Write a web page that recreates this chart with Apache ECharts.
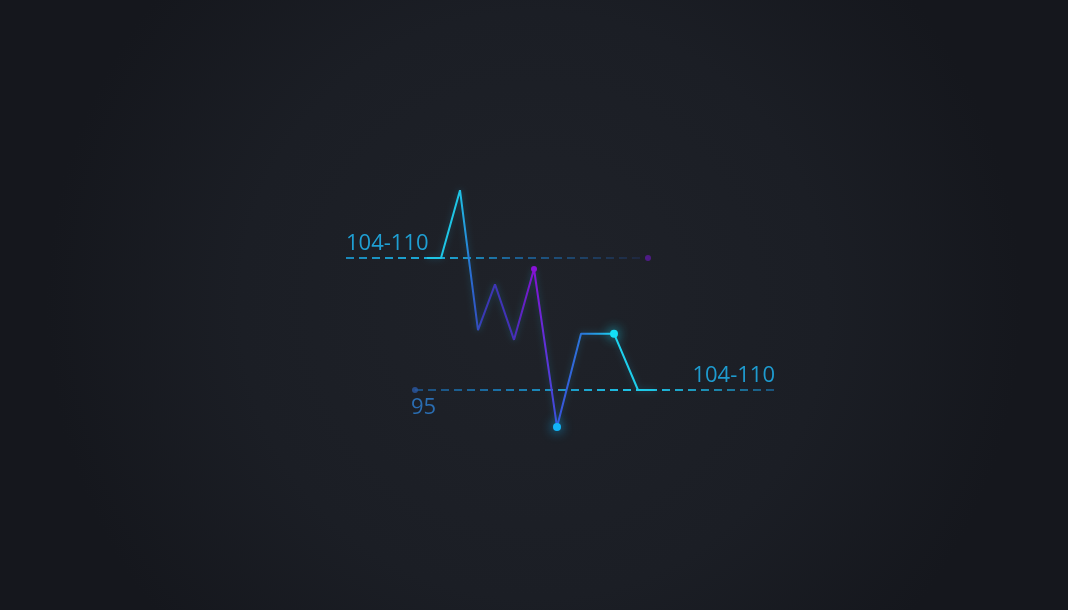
<!DOCTYPE html>
<html>
<head>
<meta charset="utf-8">
<script src="https://cdn.jsdelivr.net/npm/echarts@6/dist/echarts.min.js"></script>
<style>html,body{margin:0;padding:0;background:#1a1d24;}#c{width:1068px;height:610px;}</style>
</head>
<body>
<div id="c"></div>
<script>
// data (x position units along the trace, y values)
var xVals = [87, 101, 120, 138, 155, 174, 194, 217, 241, 274, 298, 315];
var yVals = [110, 110, 117.7, 101.8, 107.0, 100.7, 108.75, 90.8, 101.4, 101.4, 95, 95];
var upperLine = { from: 6, to: 308, value: 110, label: '104-110' };
var lowerLine = { from: 75, to: 435, value: 95, startLabel: '95', endLabel: '104-110' };

var markerStyle = {
  2: { size: 0, color: '#1ec6e6', glow: true },
  6: { size: 6, color: '#8a12d8' },
  7: { size: 8, color: '#12b4f8', glow: true },
  9: { size: 8, color: '#14e0f8', glow: true }
};

var seriesData = xVals.map(function (x, i) {
  var m = markerStyle[i];
  var item = { value: [x, yVals[i]] };
  if (m) {
    item.symbolSize = m.size;
    item.itemStyle = { color: m.color, shadowBlur: m.glow ? 12 : 0, shadowColor: m.color };
  } else {
    item.symbolSize = 0;
  }
  return item;
});

var G = echarts.graphic.LinearGradient;
var font = '"Open Sans", "Noto Sans", sans-serif';

var chart = echarts.init(document.getElementById('c'), null, { renderer: 'canvas' });
chart.setOption({
  animation: false,
  backgroundColor: new echarts.graphic.RadialGradient(0.5, 0.5, 0.8, [
    { offset: 0, color: '#1f2229' },
    { offset: 0.6, color: '#1b1e25' },
    { offset: 1, color: '#15171d' }
  ]),
  grid: { left: 340, right: 268, top: 170, bottom: 88 },
  xAxis: { type: 'value', min: 0, max: 460, show: false },
  yAxis: { type: 'value', min: 80, max: 120, show: false },
  series: [
    {
      type: 'line',
      data: seriesData,
      symbol: 'circle',
      showSymbol: true,
      lineStyle: {
        width: 2,
        color: new G(0, 0, 1, 0, [
          { offset: 0, color: '#1ec6e6' },
          { offset: 0.15, color: '#1ec6e6' },
          { offset: 0.2, color: '#2a6ad0' },
          { offset: 0.25, color: '#3a38b4' },
          { offset: 0.38, color: '#4430b8' },
          { offset: 0.47, color: '#8412d4' },
          { offset: 0.57, color: '#3a50dc' },
          { offset: 0.68, color: '#2a78da' },
          { offset: 0.82, color: '#1ed4f0' },
          { offset: 1, color: '#1ec4e4' }
        ]),
        shadowBlur: 6,
        shadowColor: 'rgba(30,180,230,0.3)'
      },
      z: 5,
      markLine: {
        silent: true,
        symbol: 'none',
        data: [
          [
            {
              coord: [upperLine.from, upperLine.value],
              lineStyle: {
                type: [8, 5], width: 2,
                color: new G(0, 0, 1, 0, [
                  { offset: 0, color: '#1a86b8' },
                  { offset: 0.3, color: '#1cacd8' },
                  { offset: 0.55, color: '#1c6094' },
                  { offset: 1, color: '#1f2338' }
                ])
              },
              label: {
                show: true, position: 'insideStartTop', formatter: upperLine.label,
                color: '#1f9fd3', fontSize: 22, fontFamily: font, distance: [0, 3]
              }
            },
            { coord: [upperLine.to, upperLine.value] }
          ],
          [
            {
              coord: [lowerLine.from, lowerLine.value],
              lineStyle: {
                type: [8, 5], width: 2,
                color: new G(0, 0, 1, 0, [
                  { offset: 0, color: '#1d4a78' },
                  { offset: 0.25, color: '#1a72a8' },
                  { offset: 0.62, color: '#1ec8ea' },
                  { offset: 1, color: '#1a5078' }
                ])
              },
              label: {
                show: true, position: 'insideStartBottom', formatter: lowerLine.startLabel,
                color: '#2a6db2', fontSize: 22, fontFamily: font, distance: [-4, 7]
              }
            },
            { coord: [lowerLine.to, lowerLine.value] }
          ],
          [
            {
              coord: [lowerLine.from, lowerLine.value],
              lineStyle: { width: 0, color: 'rgba(0,0,0,0)' },
              label: {
                show: true, position: 'insideEndTop', formatter: lowerLine.endLabel,
                color: '#1e9bcf', fontSize: 22, fontFamily: font, distance: [0, 3]
              }
            },
            { coord: [lowerLine.to, lowerLine.value] }
          ]
        ]
      }
    },
    {
      type: 'scatter',
      symbol: 'circle',
      silent: true,
      z: 6,
      data: [
        { value: [upperLine.to, upperLine.value], symbolSize: 6, itemStyle: { color: '#5a1a9c' } },
        { value: [lowerLine.from, lowerLine.value], symbolSize: 6, itemStyle: { color: '#2a58a2' } }
      ]
    }
  ]
});
</script>
</body>
</html>
